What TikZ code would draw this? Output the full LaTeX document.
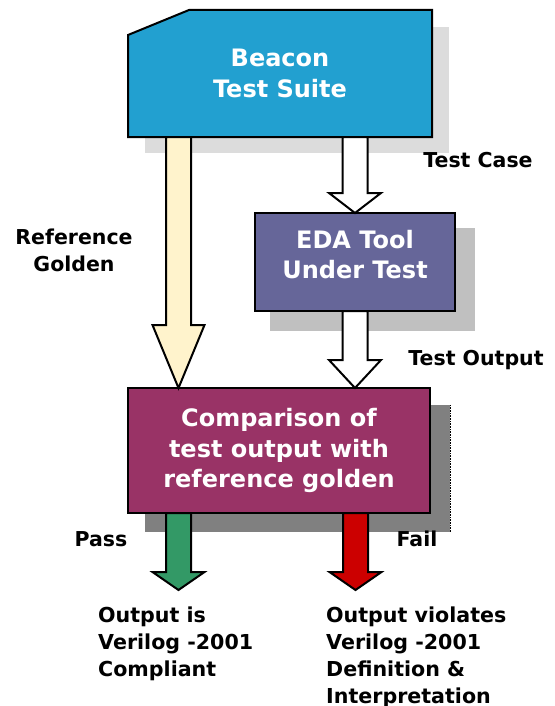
\documentclass[tikz,border=0pt]{standalone}
\usepackage{fontspec}
\setmainfont{DejaVu Sans}
\usepackage{tikz}
\usetikzlibrary{calc,backgrounds}

\definecolor{mauBeacon}{HTML}{22A0D0}
\definecolor{mauEDA}{HTML}{666699}
\definecolor{mauSS}{HTML}{993366}
\definecolor{bongBeacon}{HTML}{DCDCDC}
\definecolor{bongEDA}{HTML}{C0C0C0}
\definecolor{bongSS}{HTML}{808080}
\definecolor{mauKem}{HTML}{FFF3CC}
\definecolor{mauDat}{HTML}{339966}
\definecolor{mauTruot}{HTML}{CC0000}

\tikzset{
	chu/.style={text=white, align=center, font=\bfseries\fontsize{24}{30.5}\selectfont},
	khoi/.style={chu, draw=black, line width=2pt, inner sep=0pt, outer sep=0pt},
	nhan/.style={font=\bfseries\fontsize{20.5}{27}\selectfont, align=center, inner sep=0pt},
	ketqua/.style={font=\bfseries\fontsize{20.6}{27}\selectfont, align=left, inner sep=0pt, anchor=north west},
	muiten/.style={draw=black, line width=2pt, line join=miter},
}

% mũi tên khối: #1 gốc, #2 đỉnh, #3 màu, #4 chiều dài đầu
\newcommand\muiten[4]{%
	\path (#1) coordinate (goc) (#2) coordinate (dinh);
	\draw[muiten, fill=#3] ($(goc)+(-12.5,0)$) -- ($(dinh)+(-12.5,-#4)$) -- ($(dinh)+(-26,-#4)$) -- (dinh)
		-- ($(dinh)+(26,-#4)$) -- ($(dinh)+(12.5,-#4)$) -- ($(goc)+(12.5,0)$) -- cycle;}

\begin{document}
\begin{tikzpicture}[x=1pt,y=-1pt]
			\useasboundingbox (0,0) rectangle (554,706);
			% Vẽ các khối
			\node[khoi, draw=none, minimum width=304, minimum height=127] (suite) at (280,73.5) {Beacon\\Test Suite};
			\node[khoi, fill=mauEDA, minimum width=200, minimum height=98,
				label={[name=edachu, chu, yshift=7.5]center:EDA Tool\\Under Test}] (eda) at (355,262) {};
			\node[khoi, fill=mauSS, minimum width=302, minimum height=125] (cmp) at (279,450.5) {Comparison of\\test output with\\reference golden};
			% Vẽ bóng
			\begin{scope}[on background layer]
				\fill[bongBeacon] ($(suite.north west)+(17,17)$) rectangle ($(suite.south east)+(17,16)$);
				\fill[bongEDA] ($(eda.north west)+(15,15)$) rectangle ($(eda.south east)+(20,20)$);
				\fill[bongSS] ($(cmp.north west)+(17,17)$) rectangle ($(cmp.south east)+(20,19)$);
				\draw[khoi, fill=mauBeacon] (suite.south west) -- ($(suite.north west)+(0,25)$) -- ($(suite.north west)+(61,0)$)
					-- (suite.north east) -- (suite.south east) -- cycle;
			\end{scope}
			\draw[densely dotted, line width=0.6pt] ($(cmp.north east)+(20,17)$) -- ($(cmp.south east)+(20,19)$);
			% Vẽ mũi tên
			\coordinate (kqDat) at (178.5,590);
			\coordinate (kqTruot) at (355.5,590);
			\muiten{$(suite.south west)+(50.5,0)$}{$(cmp.north west)+(50.5,0)$}{mauKem}{63}
			\muiten{suite.south -| eda.north}{eda.north}{white}{20}
			\muiten{eda.south}{eda.south |- cmp.north}{white}{28}
			\muiten{$(cmp.south west)+(50.5,0)$}{kqDat}{mauDat}{18}
			\muiten{cmp.south -| kqTruot}{kqTruot}{mauTruot}{18}
			% Nhãn
			\node[nhan, anchor=base] (tcase) at (478,167) {Test Case};
			\node[nhan] (refg) at (74,250) {Reference\\Golden};
			\node[nhan, anchor=base] (tout) at (476,365) {Test Output};
			\node[nhan, anchor=base] (pass) at (101,546) {Pass};
			\node[nhan, anchor=base] (fail) at (417,546) {Fail};
			\node[ketqua] (datkq) at (98,607) {Output is\\Verilog -2001\\Compliant};
			\node[ketqua] (truotkq) at (326,607) {Output violates\\Verilog -2001\\Definition \&\\Interpretation};
		\end{tikzpicture}
\end{document}
